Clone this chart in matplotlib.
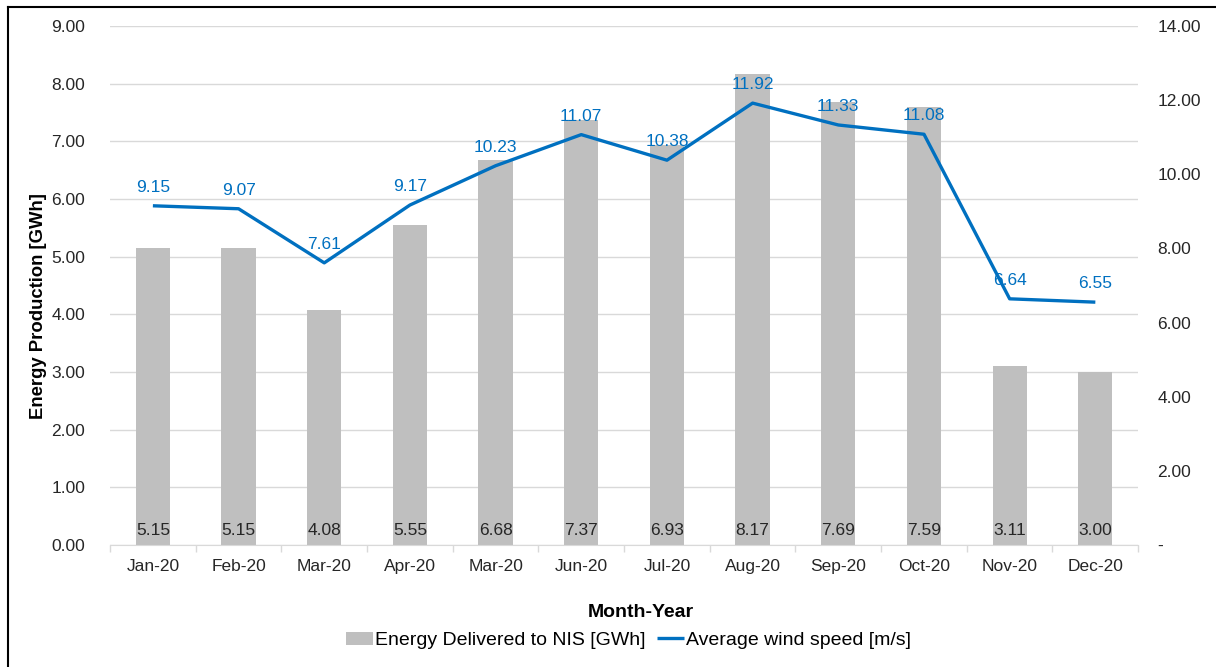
import matplotlib.pyplot as plt
from matplotlib.lines import Line2D
from matplotlib.ticker import FuncFormatter

plt.rcParams['font.family'] = ['Liberation Sans', 'DejaVu Sans']

months = ["Jan-20", "Feb-20", "Mar-20", "Apr-20", "Mar-20", "Jun-20",
          "Jul-20", "Aug-20", "Sep-20", "Oct-20", "Nov-20", "Dec-20"]
energy = [5.15, 5.15, 4.08, 5.55, 6.68, 7.37, 6.93, 8.17, 7.69, 7.59, 3.11, 3.00]
wind = [9.15, 9.07, 7.61, 9.17, 10.23, 11.07, 10.38, 11.92, 11.33, 11.08, 6.64, 6.55]

BAR_COLOR = "#BFBFBF"
LINE_COLOR = "#0070C0"
TEXT_COLOR = "#262626"
GRID_COLOR = "#D9D9D9"

fig = plt.figure(figsize=(12.16, 6.67), dpi=100)
ax = fig.add_axes([0.0905, 0.183, 0.8455, 0.778])
ax2 = ax.twinx()

x = range(len(months))
bars = ax.bar(x, energy, width=0.4, color=BAR_COLOR, zorder=2,
              label="Energy Delivered to NIS [GWh]")
for xi, v in zip(x, energy):
    ax.text(xi, 0.12, f"{v:.2f}", ha="center", va="bottom",
            fontsize=12.5, color=TEXT_COLOR, zorder=3)

line, = ax2.plot(x, wind, color=LINE_COLOR, lw=2.4, solid_capstyle="butt",
                 label="Average wind speed [m/s]", zorder=4)
for xi, v in zip(x, wind):
    ax2.annotate(f"{v:.2f}", (xi, v), xytext=(0, 8), textcoords="offset points",
                 ha="center", va="bottom", fontsize=12.5, color=LINE_COLOR)

ax.set_xlim(-0.5, len(months) - 0.5)
ax.set_ylim(0, 9)
ax.set_yticks(range(0, 10))
ax.yaxis.set_major_formatter(FuncFormatter(lambda v, p: f"{v:.2f}"))
ax2.set_ylim(0, 14)
ax2.set_yticks(range(0, 15, 2))
ax2.yaxis.set_major_formatter(FuncFormatter(lambda v, p: "-" if v == 0 else f"{v:.2f}"))

ax.set_xticks(list(x))
ax.set_xticklabels(months)
ax.set_xticks([i + 0.5 for i in range(-1, len(months))], minor=True)
ax.tick_params(axis="x", which="major", length=0, pad=10, labelsize=12.5,
               labelcolor=TEXT_COLOR)
ax.tick_params(axis="x", which="minor", length=5, color=GRID_COLOR, width=1)
ax.tick_params(axis="y", length=0, pad=18, labelsize=12.5, labelcolor=TEXT_COLOR)
ax2.tick_params(axis="y", length=0, pad=14, labelsize=12.5, labelcolor=TEXT_COLOR)

ax.grid(axis="y", color=GRID_COLOR, lw=1, zorder=0)
ax.set_axisbelow(True)
for a in (ax, ax2):
    for s in a.spines.values():
        s.set_visible(False)
ax.spines["bottom"].set_visible(True)
ax.spines["bottom"].set_color(GRID_COLOR)

ax.set_ylabel("Energy Production [GWh]", fontsize=13.3, fontweight="bold",
              color="black")
ax.yaxis.set_label_coords(-0.061, 0.46)
ax.set_xlabel("Month-Year", fontsize=14, fontweight="bold", color="black")
ax.xaxis.set_label_coords(0.5165, -0.114)

fig.legend(handles=[bars, line], loc="center", bbox_to_anchor=(0.517, 0.04),
           ncol=2, frameon=False, fontsize=14, handlelength=1.4,
           handletextpad=0.1, columnspacing=0.6)

# border on the left and top edges of the figure
fig.add_artist(Line2D([8 / 1216, 8 / 1216], [0, 1 - 7 / 667], color="black", lw=1.5))
fig.add_artist(Line2D([8 / 1216, 1], [1 - 7 / 667, 1 - 7 / 667], color="black", lw=1.5))

fig.savefig("out.png", dpi=100)
